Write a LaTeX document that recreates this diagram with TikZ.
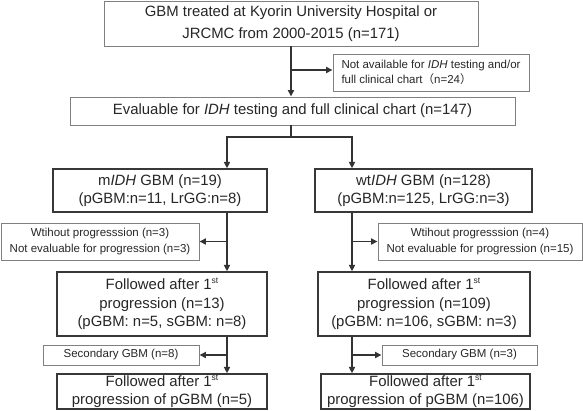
\documentclass[tikz,border=0pt]{standalone}
\usepackage{fontspec}
\setmainfont{Liberation Sans}
\newfontfamily\cjk{Noto Sans CJK JP}
\usetikzlibrary{arrows.meta}
\newcommand\myst{\raisebox{0.75ex}{\fontsize{8.5}{8.5}\selectfont st}}
\begin{document}
\begin{tikzpicture}[x=1pt,y=-1pt,
  lightbox/.style={draw=black!50,line width=0.9pt,inner sep=0pt,align=center,text=black!85,
    font=\fontsize{14.9}{19}\selectfont},
  mainbox/.style={draw=black!78,line width=1.3pt,inner sep=0pt,align=center,text=black!85,
    font=\fontsize{14.9}{18.5}\selectfont},
  sidebox/.style={draw=black!50,line width=0.9pt,inner sep=0pt,align=center,text=black!85,
    font=\fontsize{11.5}{15.3}\selectfont},
  arr/.style={draw=black!80,line width=1.7pt,-{Triangle[length=6.5pt,width=6pt]}},
  ln/.style={draw=black!80,line width=1.7pt}]
\useasboundingbox (0,0) rectangle (583,410);

\node[lightbox,minimum width=374pt,minimum height=45pt,font=\fontsize{14.9}{22}\selectfont] (top) at (291,23.5)
  {GBM treated at Kyorin University Hospital or\\JRCMC from 2000-2015 (n=171)};
\node[sidebox,minimum width=196pt,minimum height=37pt,align=left] (avail) at (431,72.5)
  {Not available for \textit{IDH} testing and/or\\full clinical chart{\cjk （}n=24{\cjk ）}};
\node[lightbox,minimum width=445pt,minimum height=28pt] (eval) at (292.5,111)
  {Evaluable for \textit{IDH} testing and full clinical chart (n=147)};

\node[mainbox,minimum width=214pt,minimum height=43pt] (mI) at (160,190.5)
  {m\textit{IDH} GBM (n=19)\\(pGBM:n=11, LrGG:n=8)};
\node[mainbox,minimum width=217pt,minimum height=43pt] (wI) at (423.5,190.5)
  {wt\textit{IDH} GBM (n=128)\\(pGBM:n=125, LrGG:n=3)};

\node[sidebox,minimum width=198pt,minimum height=37pt] (sL) at (100,241.5)
  {Wtihout progresssion (n=3)\\Not evaluable for progression (n=3)};
\node[sidebox,minimum width=204pt,minimum height=37pt] (sR) at (480,241.5)
  {Wtihout progresssion (n=4)\\Not evaluable for progression (n=15)};

\node[mainbox,minimum width=210pt,minimum height=64pt] (fL) at (162,304)
  {Followed after 1\myst\\progression (n=13)\\(pGBM: n=5, sGBM: n=8)};
\node[mainbox,minimum width=212pt,minimum height=64pt] (fR) at (424,304)
  {Followed after 1\myst\\progression (n=109)\\(pGBM: n=106, sGBM: n=3)};

\node[sidebox,minimum width=156pt,minimum height=20pt] (secL) at (121,355)
  {Secondary GBM (n=8)};
\node[sidebox,minimum width=155pt,minimum height=20pt] (secR) at (459.5,355)
  {Secondary GBM (n=3)};

\node[mainbox,minimum width=210pt,minimum height=35pt] (bL) at (162,391.5)
  {Followed after 1\myst\\progression of pGBM (n=5)};
\node[mainbox,minimum width=209pt,minimum height=35pt] (bR) at (425.5,391.5)
  {Followed after 1\myst\\progression of pGBM (n=106)};

\coordinate (j0) at (291,137);
\coordinate (jL) at (227,137);
\coordinate (jR) at (352,137);

\draw[arr] (top.south) -- (top.south |- eval.north);
\draw[arr] (top.south |- 0,70) -- (avail.west |- 0,70);

\draw[ln] (eval.south -| j0) -- (j0);
\draw[arr] (j0) -- (jL) -- (jL |- mI.north);
\draw[arr] (j0) -- (jR) -- (jR |- wI.north);

\draw[arr] (jL |- mI.south) -- (jL |- fL.north);
\draw[arr] (jL |- sL.east) -- (sL.east);
\draw[arr] (jR |- wI.south) -- (jR |- fR.north);
\draw[arr] (jR |- sR.west) -- (sR.west);

\draw[arr] (jL |- fL.south) -- (jL |- bL.north);
\draw[arr] (jL |- secL.east) -- (secL.east);
\draw[arr] (jR |- fR.south) -- (jR |- bR.north);
\draw[arr] (jR |- secR.west) -- (secR.west);
\end{tikzpicture}
\end{document}
